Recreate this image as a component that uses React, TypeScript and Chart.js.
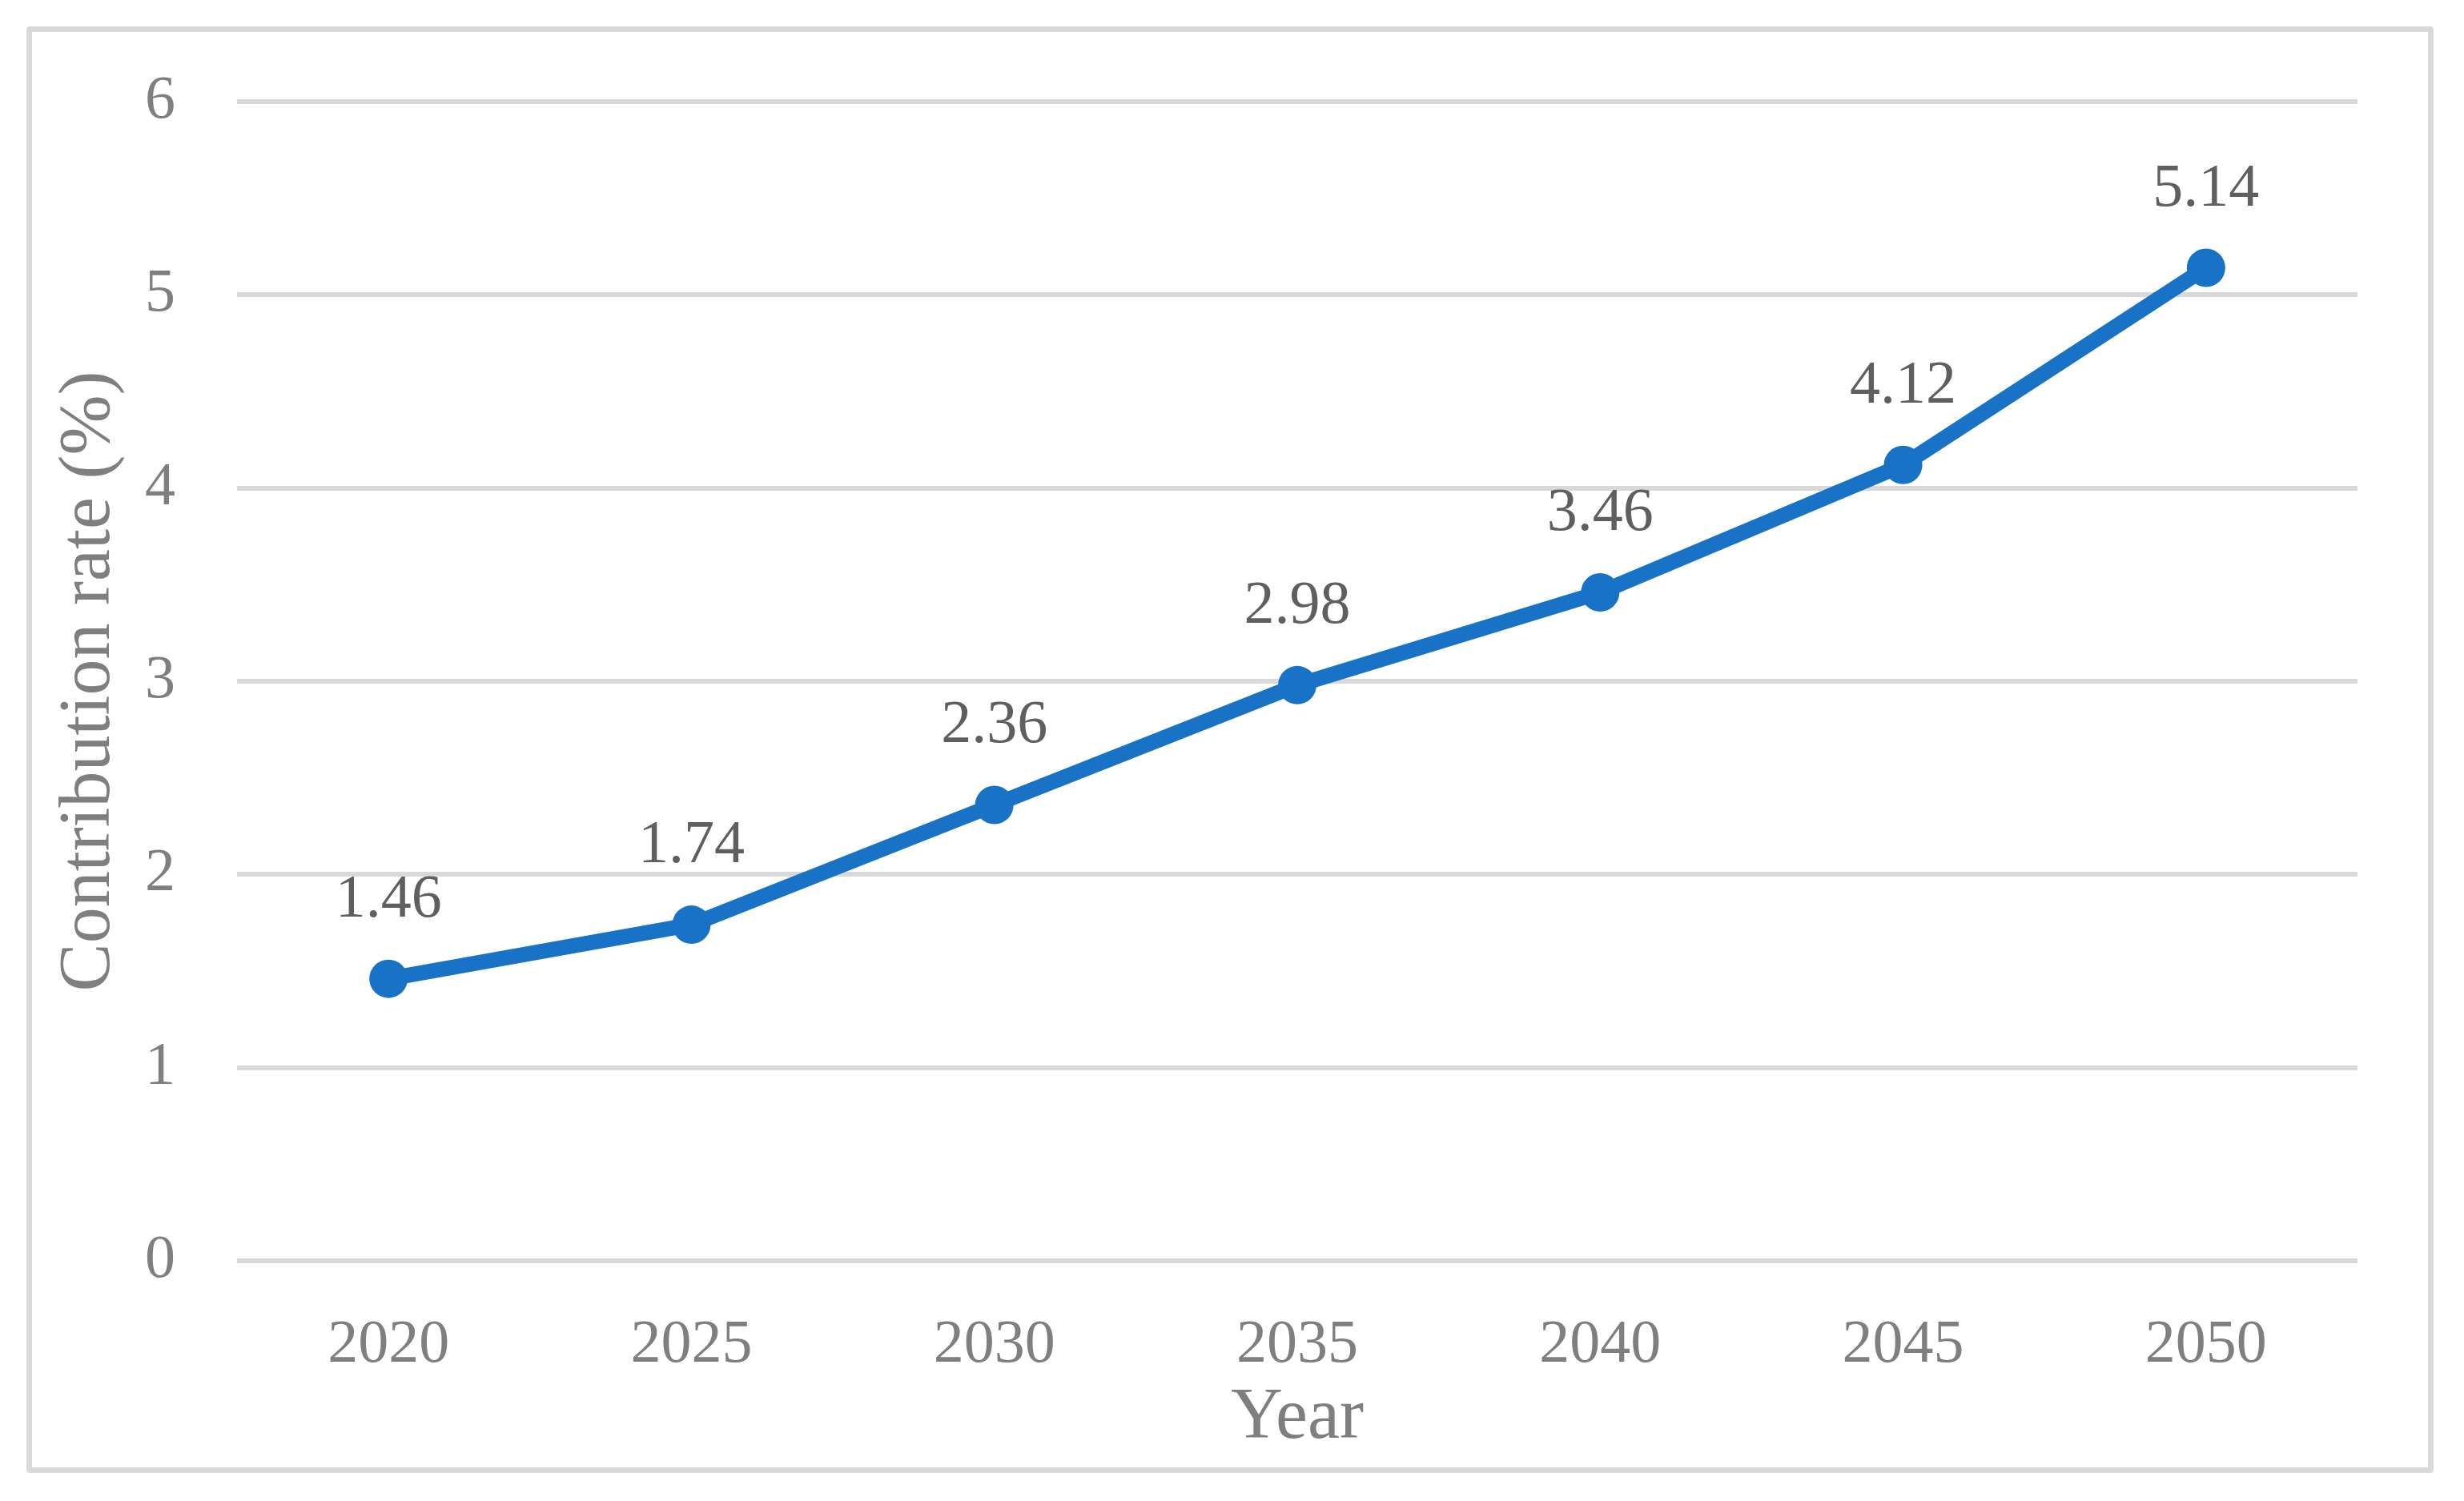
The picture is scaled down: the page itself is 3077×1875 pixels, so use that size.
import React, { useEffect, useRef } from "react";
import { Chart, registerables } from "chart.js";

Chart.register(...registerables);

const years: string[] = ["2020", "2025", "2030", "2035", "2040", "2045", "2050"];
const contributionRate: number[] = [1.46, 1.74, 2.36, 2.98, 3.46, 4.12, 5.14];
const yTicks: number[] = [0, 1, 2, 3, 4, 5, 6];
const xTitle = "Year";
const yTitle = "Contribution rate (%)";

const FONT = "'Liberation Serif', 'Times New Roman', serif";
const BLUE = "#1873c6";

const dataLabelPlugin = {
  id: "dataLabels",
  afterDatasetsDraw(chart: any) {
    const ctx = chart.ctx;
    const meta = chart.getDatasetMeta(0);
    const ds = chart.data.datasets[0];
    ctx.save();
    ctx.font = `76px ${FONT}`;
    ctx.fillStyle = "#5f5f5f";
    ctx.textAlign = "center";
    ctx.textBaseline = "alphabetic";
    meta.data.forEach((pt: any, i: number) => {
      const v = ds.data[i] as number;
      ctx.fillText(v.toFixed(2), pt.x, pt.y - 78);
    });
    ctx.restore();
  },
};

export default function App() {
  const ref = useRef<HTMLCanvasElement | null>(null);

  useEffect(() => {
    if (!ref.current) return;
    const chart = new Chart(ref.current, {
      type: "line",
      data: {
        labels: years,
        datasets: [
          {
            data: contributionRate,
            borderColor: BLUE,
            backgroundColor: BLUE,
            borderWidth: 19,
            pointRadius: 24,
            pointBackgroundColor: BLUE,
            pointBorderWidth: 0,
            tension: 0,
            fill: false,
          },
        ],
      },
      options: {
        animation: false,
        responsive: false,
        devicePixelRatio: 1,
        layout: { padding: { top: 127, right: 133, left: 0, bottom: 0 } },
        plugins: {
          legend: { display: false },
          tooltip: { enabled: false },
        },
        scales: {
          x: {
            offset: true,
            grid: { display: false, drawTicks: false, offset: true },
            border: { display: false },
            ticks: {
              color: "#7f7f7f",
              font: { family: FONT, size: 76 },
              padding: 60,
            },
            title: {
              display: true,
              text: xTitle,
              color: "#7f7f7f",
              font: { family: FONT, size: 90 },
              padding: { top: 0, bottom: 49 },
            },
            afterFit: (scale: any) => {
              scale.height = 300;
            },
          },
          y: {
            min: 0,
            max: 6,
            afterBuildTicks: (scale: any) => {
              scale.ticks = yTicks.map((v) => ({ value: v }));
            },
            grid: { color: "#d9d9d9", lineWidth: 6, drawTicks: false },
            border: { display: false },
            ticks: {
              color: "#7f7f7f",
              font: { family: FONT, size: 76 },
              padding: 77,
              stepSize: 1,
            },
            title: {
              display: true,
              text: yTitle,
              color: "#7f7f7f",
              font: { family: FONT, size: 90 },
              padding: { top: 58, bottom: 0 },
            },
            afterFit: (scale: any) => {
              scale.width = 296;
            },
          },
        },
      },
      plugins: [dataLabelPlugin],
    });
    return () => chart.destroy();
  }, []);

  return (
    <div
      style={{
        position: "absolute",
        left: 0,
        top: 0,
        width: 3077,
        height: 1875,
        background: "#ffffff",
        overflow: "hidden",
      }}
    >
      <canvas ref={ref} width={3077} height={1875} style={{ position: "absolute", left: 0, top: 0 }} />
      <div
        style={{
          position: "absolute",
          left: 33,
          top: 33,
          width: 3006,
          height: 1807,
          boxSizing: "border-box",
          border: "7px solid #d9d9d9",
          borderRadius: 4,
          pointerEvents: "none",
        }}
      />
    </div>
  );
}
